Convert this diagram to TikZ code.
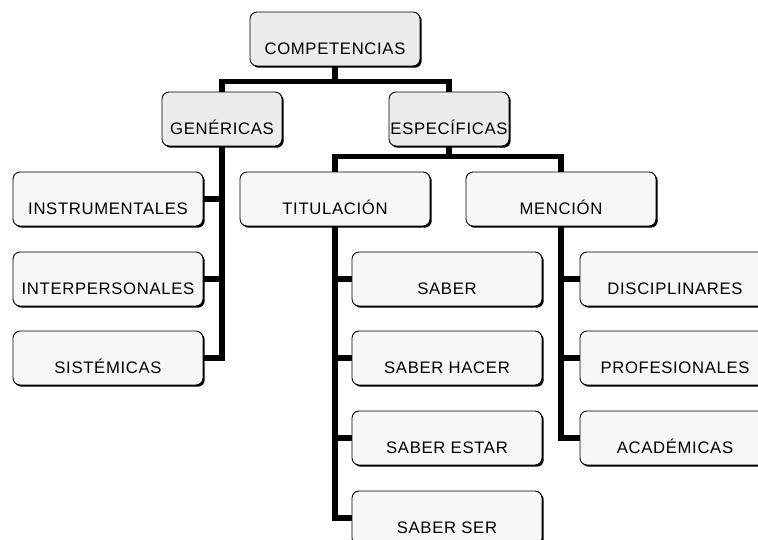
\documentclass[tikz,border=0pt]{standalone}
\usepackage{fontspec}
\setmainfont{Liberation Sans}
\usetikzlibrary{shadows}

\begin{document}
\begin{tikzpicture}[x=0.02cm, y=-0.02cm]

  \tikzstyle{box} = [draw, rounded corners=4pt, line width=0.5pt, fill=gray!6,
    minimum width=3.8cm, text height=0.64cm, text depth=0pt, inner ysep=0.22cm, inner xsep=0pt,
    drop shadow={shadow xshift=1pt, shadow yshift=-1pt, fill=black, opacity=1},
    font=\fontsize{9.5}{11}\selectfont\addfontfeatures{LetterSpace=4}]
  \tikzstyle{head} = [box, fill=gray!15]
  \tikzstyle{bar} = [line width=3pt]

  \useasboundingbox (0,0) rectangle (758,540);
  \clip (0,0) rectangle (758,540);

  \node[head, minimum width=3.4cm] (comp) at (335,39) {COMPETENCIAS};

  \node[head, minimum width=2.4cm] (gen) at (222,119) {GENÉRICAS};
  \node[head, minimum width=2.4cm] (esp) at (449,119) {ESPECÍFICAS};

  \node[box] (ins) at (108,199) {INSTRUMENTALES};
  \node[box] (int) at (108,279) {INTERPERSONALES};
  \node[box] (sis) at (108,358) {SISTÉMICAS};

  \node[box] (tit) at (335,199) {TITULACIÓN};
  \node[box] (men) at (561,199) {MENCIÓN};

  \node[box] (sab) at (447,279) {SABER};
  \node[box] (hac) at (447,358) {SABER HACER};
  \node[box] (est) at (447,438) {SABER ESTAR};
  \node[box] (ser) at (447,518) {SABER SER};

  \node[box] (dis) at (675,279) {DISCIPLINARES};
  \node[box] (pro) at (675,358) {PROFESIONALES};
  \node[box] (aca) at (675,438) {ACADÉMICAS};

  % main tree
  \draw[bar] (comp.south) -- ++(0,15) coordinate (c1) -| (gen.north);
  \draw[bar] (c1) -| (esp.north);
  \draw[bar] (esp.south) -- ++(0,10) coordinate (c2) -| (tit.north);
  \draw[bar] (c2) -| (men.north);

  % genericas
  \draw[bar] (gen.south) |- (sis.east);
  \draw[bar] (ins.east) -- (ins.east -| gen.south);
  \draw[bar] (int.east) -- (int.east -| gen.south);

  % titulacion
  \draw[bar] (tit.south) |- (ser.west);
  \draw[bar] (sab.west) -- (sab.west -| tit.south);
  \draw[bar] (hac.west) -- (hac.west -| tit.south);
  \draw[bar] (est.west) -- (est.west -| tit.south);

  % mencion
  \draw[bar] (men.south) |- (aca.west);
  \draw[bar] (dis.west) -- (dis.west -| men.south);
  \draw[bar] (pro.west) -- (pro.west -| men.south);

\end{tikzpicture}
\end{document}
